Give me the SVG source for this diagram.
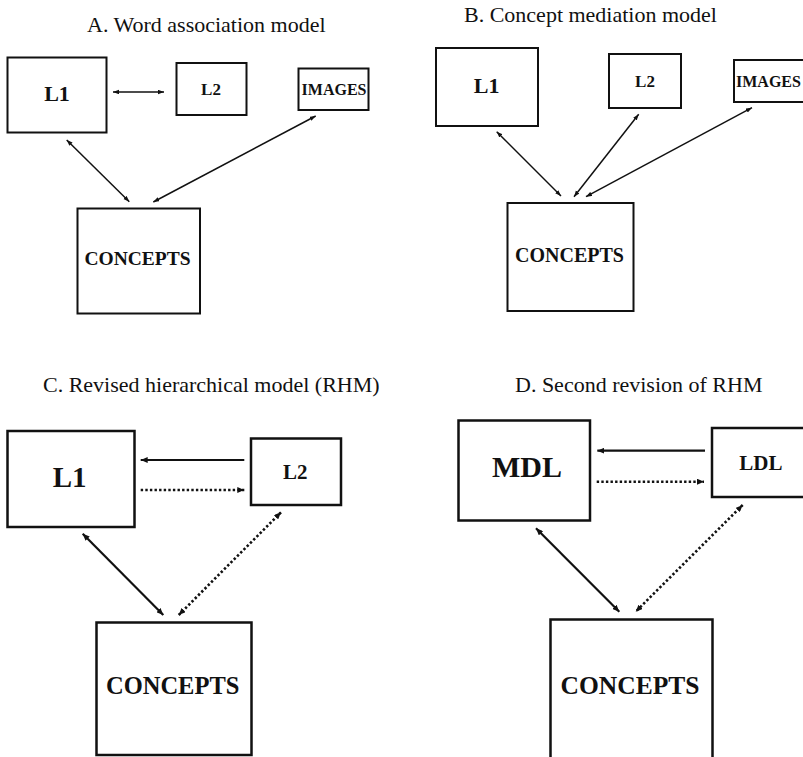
<svg xmlns="http://www.w3.org/2000/svg" width="803" height="757" viewBox="0 0 803 757">
<defs>
<style>
.title{font-family:"Liberation Serif","Times New Roman",serif;font-size:22px;fill:#111}
.lbl{font-family:"Liberation Serif","Times New Roman",serif;font-weight:bold;fill:#111;text-anchor:middle}
.box{fill:#fff;stroke:#111;stroke-width:2}
.boxL{fill:#fff;stroke:#111;stroke-width:2.5}
.ca{fill:none;stroke:#111;stroke-width:1.5}
.cc{fill:none;stroke:#111;stroke-width:2.2}
.dot{stroke-width:2.6;stroke-dasharray:2.4 2.2}
.s2{marker-start:url(#hs);marker-end:url(#hs)}
.l2{marker-start:url(#hl);marker-end:url(#hl)}
.l1{marker-end:url(#hl)}
</style>
<marker id="hs" markerUnits="userSpaceOnUse" markerWidth="7" markerHeight="5" refX="6" refY="2.25" orient="auto-start-reverse" viewBox="0 0 7 5">
<path d="M0,0 L6,2.25 L0,4.5 z" fill="#111"/>
</marker>
<marker id="hl" markerUnits="userSpaceOnUse" markerWidth="8" markerHeight="6" refX="7" refY="3" orient="auto-start-reverse" viewBox="0 0 8 6">
<path d="M0,0 L7,3 L0,6 z" fill="#111"/>
</marker>
</defs>
<rect width="803" height="757" fill="#fff"/>

<text class="title" x="87" y="32">A. Word association model</text>
<text class="title" x="464" y="22">B. Concept mediation model</text>
<text class="title" x="43" y="392">C. Revised hierarchical model (RHM)</text>
<text class="title" x="515" y="392">D. Second revision of RHM</text>

<g id="connectors">
<line class="ca s2" x1="113" y1="92" x2="164" y2="92"/>
<line class="ca s2" x1="66.7" y1="140" x2="129.3" y2="201.7"/>
<line class="ca s2" x1="315.7" y1="116" x2="153.3" y2="202"/>
<line class="ca s2" x1="496.7" y1="131.7" x2="561" y2="196"/>
<line class="ca s2" x1="638.7" y1="114.3" x2="574" y2="196.7"/>
<line class="ca s2" x1="752" y1="107.7" x2="586" y2="196.7"/>
<line class="cc l1" x1="244.3" y1="460" x2="140.7" y2="460"/>
<line class="cc dot l1" x1="140.7" y1="490" x2="244.3" y2="490"/>
<line class="cc l2" x1="82.7" y1="533.7" x2="163.3" y2="615"/>
<line class="cc dot l2" x1="281" y1="512.3" x2="178.7" y2="615"/>
<line class="cc l1" x1="705" y1="450.7" x2="597.3" y2="450.7"/>
<line class="cc dot l1" x1="596.7" y1="481.7" x2="704" y2="481.7"/>
<line class="cc l2" x1="536" y1="528.3" x2="619.3" y2="611.7"/>
<line class="cc dot l2" x1="742.7" y1="505" x2="635.7" y2="611.7"/>
</g>

<g id="a-l1"><rect class="box" x="7.5" y="57.5" width="99" height="75"/><text class="lbl" x="57" y="101" font-size="22">L1</text></g>
<g id="a-l2"><rect class="box" x="176.5" y="63" width="70" height="52"/><text class="lbl" x="211" y="95" font-size="17">L2</text></g>
<g id="a-images"><rect class="box" x="298.5" y="68.5" width="70" height="41.5"/><text class="lbl" x="334" y="95" font-size="16">IMAGES</text></g>
<g id="a-concepts"><rect class="box" x="77.5" y="208.5" width="122.5" height="105"/><text class="lbl" x="137.5" y="265" font-size="19.5">CONCEPTS</text></g>

<g id="b-l1"><rect class="box" x="436" y="48" width="102" height="78"/><text class="lbl" x="486.7" y="93" font-size="22">L1</text></g>
<g id="b-l2"><rect class="box" x="609" y="54" width="72" height="54"/><text class="lbl" x="645" y="87" font-size="17">L2</text></g>
<g id="b-images"><rect class="box" x="734" y="60" width="74" height="42"/><text class="lbl" x="736" y="87" font-size="16" style="text-anchor:start">IMAGES</text></g>
<g id="b-concepts"><rect class="box" x="507.5" y="203" width="126" height="108"/><text class="lbl" x="569.5" y="262" font-size="20">CONCEPTS</text></g>

<g id="c-l1"><rect class="boxL" x="7.5" y="431" width="127" height="96"/><text class="lbl" x="69.7" y="487" font-size="29">L1</text></g>
<g id="c-l2"><rect class="boxL" x="251" y="438.5" width="90" height="66.5"/><text class="lbl" x="295.3" y="479" font-size="21">L2</text></g>
<g id="c-concepts"><rect class="boxL" x="96.5" y="622.5" width="155" height="132.5"/><text class="lbl" x="172.7" y="694" font-size="24.5">CONCEPTS</text></g>

<g id="d-mdl"><rect class="boxL" x="458.5" y="420.5" width="131.5" height="100"/><text class="lbl" x="527" y="477" font-size="30">MDL</text></g>
<g id="d-ldl"><rect class="boxL" x="712" y="428" width="96" height="69"/><text class="lbl" x="760.8" y="470" font-size="21">LDL</text></g>
<g id="d-concepts"><rect class="boxL" x="550.5" y="619.5" width="162" height="150"/><text class="lbl" x="630" y="694" font-size="25.5">CONCEPTS</text></g>
</svg>
